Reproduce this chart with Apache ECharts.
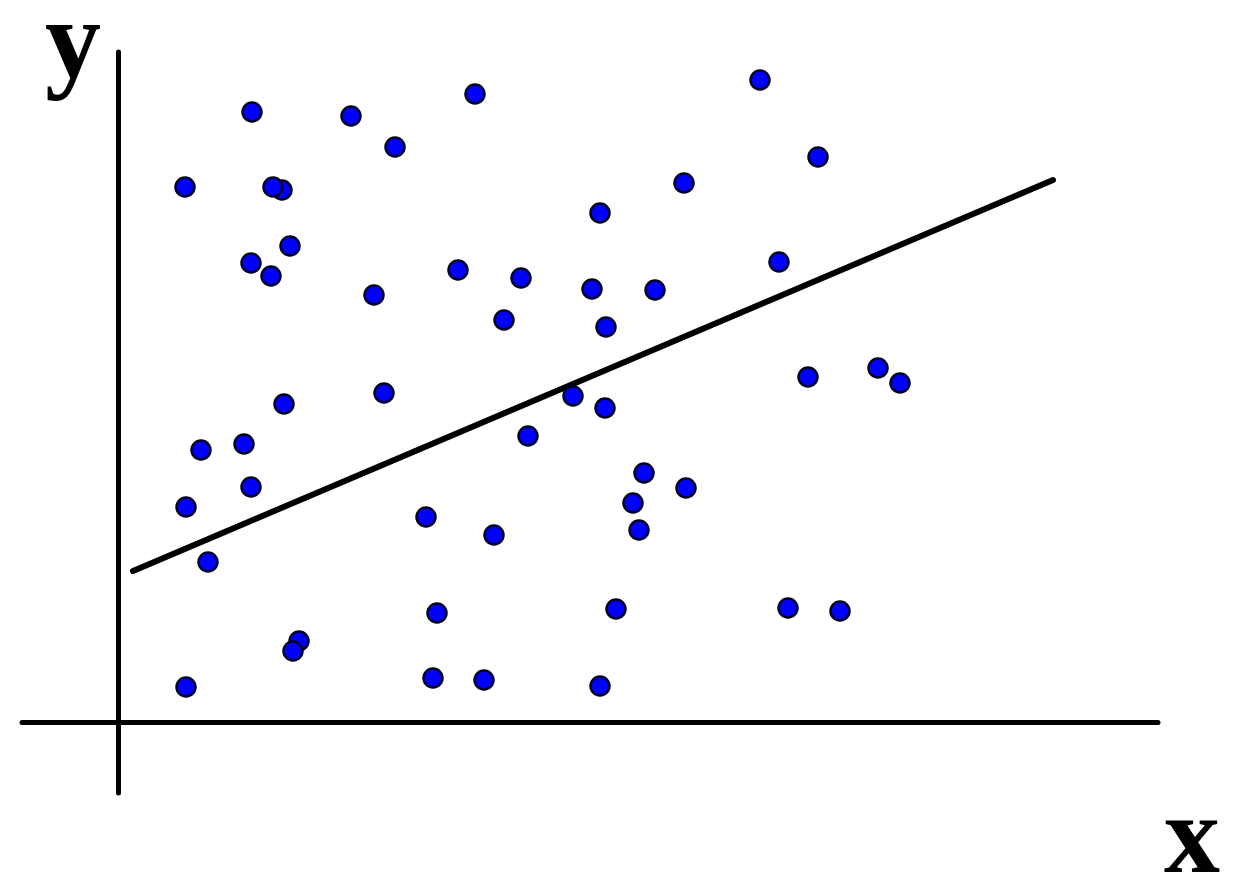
<!DOCTYPE html>
<html>
<head>
<meta charset="utf-8">
<script src="https://cdn.jsdelivr.net/npm/echarts@6/dist/echarts.min.js"></script>
<style>html,body{margin:0;padding:0;background:#fff;}#chart{width:1240px;height:889px;}</style>
</head>
<body>
<div id="chart"></div>
<script>
// Scatter points (x, y) (origin at the axes crossing)
const pointsX = [67,134,233,277,357,642,700,566,482,164,155,172,133,153,256,340,403,474,537,386,488,661,690,760,782,455,487,266,166,83,126,410,526,568,515,521,376,308,133,68,90,319,498,670,722,181,175,68,315,366,482];
const pointsY = [535,610,606,575,628,642,565,539,509,532,535,476,459,446,427,452,444,433,432,402,395,460,345,354,339,326,314,329,318,272,278,286,249,234,219,192,187,205,235,215,160,109,113,114,111,81,71,35,44,42,36];
// Fitted line end points
const trendX = [15, 935];
const trendY = [151, 542];
// Axis labels
const axisNames = { x: 'x', y: 'y' };

const scatterData = pointsX.map((x, i) => [x, pointsY[i]]);
const lineData = trendX.map((x, i) => [x, trendY[i]]);

const chart = echarts.init(document.getElementById('chart'));
chart.setOption({
  animation: false,
  backgroundColor: '#ffffff',
  grid: { left: 22, right: 82, top: 52, bottom: 96, containLabel: false },
  xAxis: {
    type: 'value', min: -96, max: 1040,
    axisLine: { show: true, onZero: true, lineStyle: { color: '#000', width: 5 } },
    axisTick: { show: false }, axisLabel: { show: false }, splitLine: { show: false }
  },
  yAxis: {
    type: 'value', min: -71, max: 670,
    axisLine: { show: true, onZero: true, lineStyle: { color: '#000', width: 5 } },
    axisTick: { show: false }, axisLabel: { show: false }, splitLine: { show: false }
  },
  series: [
    {
      type: 'line', data: lineData, symbol: 'none', z: 2,
      lineStyle: { color: '#000', width: 6, cap: 'round' }
    },
    {
      type: 'scatter', data: scatterData, symbol: 'circle', symbolSize: 19, z: 3,
      itemStyle: { color: '#0000ff', borderColor: '#000022', borderWidth: 2.5, opacity: 1 }
    }
  ],
  graphic: [
    { type: 'text', left: 45, top: -8, style: { text: axisNames.y, font: 'bold 112px "Liberation Serif", "DejaVu Serif", serif', fill: '#000' } },
    { type: 'text', left: 1164, top: 787, style: { text: axisNames.x, font: 'bold 112px "Liberation Serif", "DejaVu Serif", serif', fill: '#000' } }
  ]
});
</script>
</body>
</html>
